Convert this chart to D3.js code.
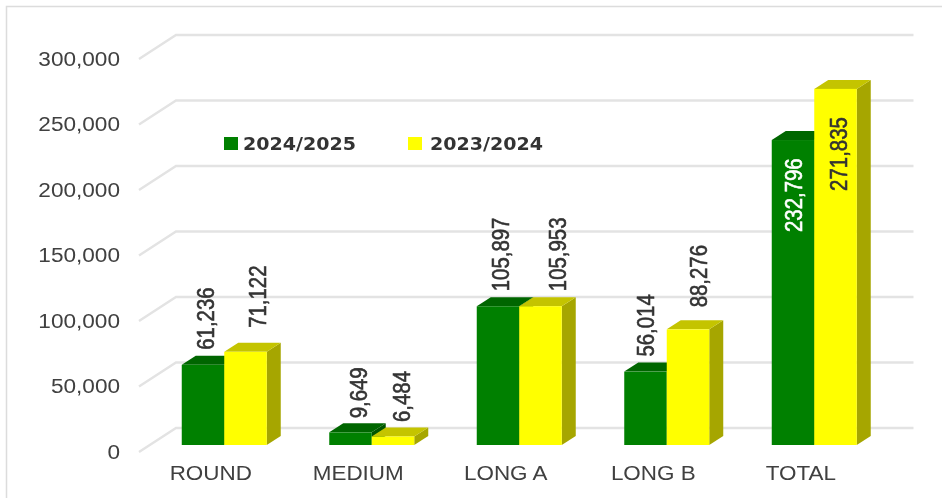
<!DOCTYPE html>
<html>
<head>
<meta charset="utf-8">
<script src="https://cdnjs.cloudflare.com/ajax/libs/d3/7.8.5/d3.min.js"></script>
<style>
  html, body { margin: 0; padding: 0; background: #fff; }
  text { font-family: "Liberation Sans", Arial, sans-serif; }
  svg { filter: blur(0.4px); }
</style>
</head>
<body>
<div id="chart"></div>
<script>
(function(){

    var categories = ['ROUND', 'MEDIUM', 'LONG A', 'LONG B', 'TOTAL'];
    var seasons = ['2024/2025', '2023/2024'];
    var values2024 = [61236, 9649, 105897, 56014, 232796];
    var values2023 = [71122, 6484, 105953, 88276, 271835];
    var yTicks = [0, 50000, 100000, 150000, 200000, 250000, 300000];

    var width = 942;
    var height = 498;

    // fake 3d: how far the back wall and the bars sit behind the front edge
    var wall = {dx: 37, dy: -24};
    var inset = {dx: 11.5, dy: -7};
    var depth = {dx: 14, dy: -9};

    var colours = [
        {front: '#008000', top: '#006600', side: '#005500'},
        {front: '#ffff00', top: '#c4c400', side: '#a6a600'}
    ];

    var fmt = d3.format(',');

    var svg = d3.select('#chart')
        .append('svg')
            .attr('width', width)
            .attr('height', height)
            .style('display', 'block');

    var xScale = d3.scaleBand()
        .domain(categories)
        .range([139, 876.5]);

    var yScale = d3.scaleLinear()
        .domain([0, 300000])
        .range([452, 59]);

    var barWidth = 42.5;
    var barStart = function(cat, s) {
        return xScale(cat) + xScale.bandwidth() / 2 - barWidth + s * barWidth + inset.dx;
    };

    // chart frame, only top and left show
    svg.append('path')
        .attr('d', 'M6.5,498V6.5H942')
        .attr('fill', 'none')
        .attr('stroke', '#dcdcdc')
        .attr('stroke-width', 1.5);

    // gridlines run along the side wall and the back wall
    svg.append('g')
        .selectAll('path')
        .data(yTicks)
        .enter()
        .append('path')
        .attr('d', function(d) {
            var y = yScale(d);
            return 'M' + xScale.range()[0] + ',' + y +
                'L' + (xScale.range()[0] + wall.dx) + ',' + (y + wall.dy) +
                'H' + (xScale.range()[1] + wall.dx);
        })
        .attr('fill', 'none')
        .attr('stroke', '#e3e3e3')
        .attr('stroke-width', 2.4);

    var yAxis = d3.axisLeft(yScale)
        .tickValues(yTicks)
        .tickFormat(fmt)
        .tickSize(0)
        .tickPadding(0);

    var yG = svg.append('g')
        .attr('transform', 'translate(120,0)')
        .call(yAxis);
    yG.select('.domain').remove();
    yG.selectAll('text')
        .attr('font-size', 20)
        .attr('fill', '#404040')
        .style('font-family', '"Liberation Sans", Arial, sans-serif')
        .each(function() {
            d3.select(this)
                .attr('textLength', this.getComputedTextLength() * 1.13)
                .attr('lengthAdjust', 'spacingAndGlyphs');
        });

    var xAxis = d3.axisBottom(xScale).tickSize(0).tickPadding(0);
    var xG = svg.append('g')
        .attr('transform', 'translate(-2,466)')
        .call(xAxis);
    xG.select('.domain').remove();
    xG.selectAll('text')
        .attr('font-size', 19.5)
        .attr('fill', '#404040')
        .style('font-family', '"Liberation Sans", Arial, sans-serif')
        .each(function() {
            d3.select(this)
                .attr('textLength', this.getComputedTextLength() * 1.15)
                .attr('lengthAdjust', 'spacingAndGlyphs');
        });

    var rows = [];
    categories.forEach(function(cat, i) {
        [values2024, values2023].forEach(function(vals, s) {
            rows.push({cat: cat, s: s, value: vals[i]});
        });
    });

    var bars = svg.selectAll('g.bar')
        .data(rows)
        .enter()
        .append('g')
        .attr('class', 'bar');

    function barTop(d) { return yScale(d.value) + inset.dy; }
    function barBase() { return yScale(0) + inset.dy; }

    bars.append('path')
        .attr('d', function(d) {
            var x = barStart(d.cat, d.s) + barWidth;
            return 'M' + x + ',' + barBase() +
                'l' + depth.dx + ',' + depth.dy +
                'V' + (barTop(d) + depth.dy) +
                'l' + (-depth.dx) + ',' + (-depth.dy) + 'Z';
        })
        .attr('fill', function(d) { return colours[d.s].side; });

    bars.append('path')
        .attr('d', function(d) {
            var x = barStart(d.cat, d.s);
            return 'M' + x + ',' + barTop(d) +
                'l' + depth.dx + ',' + depth.dy +
                'h' + barWidth +
                'l' + (-depth.dx) + ',' + (-depth.dy) + 'Z';
        })
        .attr('fill', function(d) { return colours[d.s].top; });

    bars.append('rect')
        .attr('x', function(d) { return barStart(d.cat, d.s); })
        .attr('y', barTop)
        .attr('width', barWidth)
        .attr('height', function(d) { return barBase() - barTop(d); })
        .attr('fill', function(d) { return colours[d.s].front; });

    // data labels were hand placed in the original, these are nudges from the bar top
    var nudgeX = [2, 11.5, 8, 8, 2, 17, 0, 10, 0, 3];
    var nudgeY = [15, 24, 14, 14.5, 15, 15, 15, 22, -92, -102];

    svg.append('g')
        .selectAll('text')
        .data(rows)
        .enter()
        .append('text')
        .attr('transform', function(d, i) {
            var x = barStart(d.cat, d.s) + barWidth / 2 + nudgeX[i] + 8.5;
            var y = barTop(d) - nudgeY[i];
            return 'translate(' + x + ',' + y + ') rotate(-90) scale(0.85,1)';
        })
        .attr('font-size', 24)
        .attr('fill', function(d) { return d.cat === 'TOTAL' && d.s === 0 ? '#fff' : '#333'; })
        .attr('stroke', function(d) { return d.cat === 'TOTAL' && d.s === 0 ? '#fff' : '#333'; })
        .attr('stroke-width', 0.6)
        .text(function(d) { return fmt(d.value); });

    var legend = svg.append('g')
        .selectAll('g')
        .data(seasons)
        .enter()
        .append('g')
        .attr('transform', function(d, i) { return 'translate(' + (224 + i * 184) + ',137)'; });

    legend.append('rect')
        .attr('width', 14)
        .attr('height', 13)
        .attr('fill', function(d, i) { return colours[i].front; });

    legend.append('text')
        .attr('x', function(d, i) { return 19 + i * 3; })
        .attr('y', 13)
        .attr('font-size', 18)
        .attr('font-weight', 'bold')
        .attr('fill', '#333')
        .style('font-family', '"DejaVu Sans", Verdana, sans-serif')
        .attr('textLength', 113)
        .attr('lengthAdjust', 'spacingAndGlyphs')
        .text(function(d) { return d; });

})();
</script>
</body>
</html>
